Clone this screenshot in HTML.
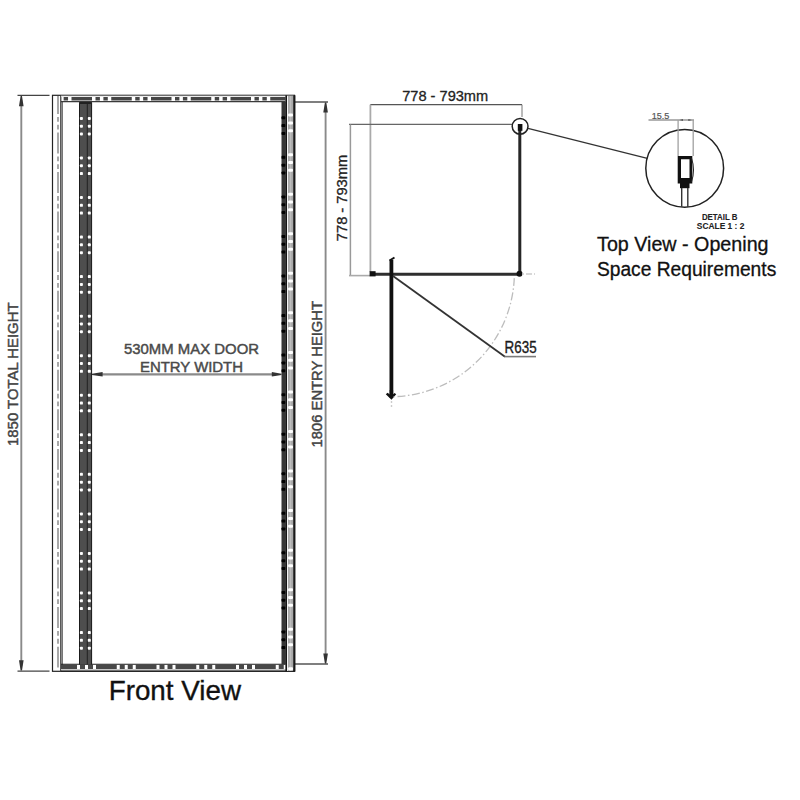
<!DOCTYPE html>
<html><head><meta charset="utf-8">
<style>
html,body{margin:0;padding:0;background:#fff;width:800px;height:800px;overflow:hidden}
svg{display:block;position:absolute;left:0;top:0}
text{font-family:"Liberation Sans",sans-serif}
</style></head>
<body>
<svg width="800" height="800" viewBox="0 0 800 800">
<rect x="0" y="0" width="800" height="800" fill="#fff"/>

<!-- ================= FRONT VIEW ================= -->
<g id="front">
  <!-- left dimension (1850 total) -->
  <line x1="17.5" y1="95.3" x2="49.5" y2="95.3" stroke="#444" stroke-width="1.3"/>
  <line x1="17.5" y1="671.2" x2="49.5" y2="671.2" stroke="#444" stroke-width="1.3"/>
  <line x1="21.3" y1="100" x2="21.3" y2="666" stroke="#8a8a8a" stroke-width="1.9"/>
  <path d="M20.6 96 L22 96 L23.6 106.3 L19 106.3 Z" fill="#333"/>
  <path d="M20.6 670.6 L22 670.6 L23.6 660.2 L19 660.2 Z" fill="#333"/>
  <text x="18.5" y="374.2" font-size="14.8" fill="#444" text-anchor="middle" transform="rotate(-90 18.5 374.2)" textLength="143.5" lengthAdjust="spacingAndGlyphs" stroke="#444" stroke-width="0.45">1850 TOTAL HEIGHT</text>

  <!-- right dimension (1806 entry) -->
  <line x1="295" y1="101.9" x2="328" y2="101.9" stroke="#555" stroke-width="1.5"/>
  <line x1="295" y1="664" x2="328" y2="664" stroke="#555" stroke-width="1.5"/>
  <line x1="325.6" y1="108" x2="325.6" y2="658" stroke="#8a8a8a" stroke-width="1.9"/>
  <path d="M324.9 102.6 L326.3 102.6 L327.9 112.6 L323.3 112.6 Z" fill="#333"/>
  <path d="M324.9 663.4 L326.3 663.4 L327.9 653.4 L323.3 653.4 Z" fill="#333"/>
  <text x="322.3" y="374.2" font-size="14.8" fill="#444" text-anchor="middle" transform="rotate(-90 322.3 374.2)" textLength="146.5" lengthAdjust="spacingAndGlyphs" stroke="#444" stroke-width="0.45">1806 ENTRY HEIGHT</text>

  <!-- outer frame -->
  <rect x="52.5" y="95.3" width="242" height="576" fill="none" stroke="#222" stroke-width="1.2"/>

  <!-- left thin strip -->
  <line x1="58" y1="96" x2="58" y2="670.5" stroke="#8c8c8c" stroke-width="1.5" stroke-dasharray="20.95 3 4.8 3 4.8 3" stroke-dashoffset="3.05"/>
  <line x1="60.8" y1="96" x2="60.8" y2="671" stroke="#222" stroke-width="1.1"/>
  <line x1="62.2" y1="101" x2="62.2" y2="665" stroke="#555" stroke-width="1.2"/>

  <!-- top bar -->
  <line x1="61" y1="98.7" x2="285.5" y2="98.7" stroke="#464646" stroke-width="3.4" stroke-dasharray="20.5 3.5 4.4 3.5 4.4 3.45" stroke-dashoffset="29.25" />
  <line x1="61" y1="96.2" x2="294" y2="96.2" stroke="#e6e6e6" stroke-width="1"/>
  <line x1="61" y1="101.7" x2="285.5" y2="101.7" stroke="#3a3a3a" stroke-width="1.3"/>

  <!-- bottom bar -->
  <line x1="61" y1="666.8" x2="285.5" y2="666.8" stroke="#484848" stroke-width="4.2" stroke-dasharray="20.75 3 5 3 5 3" stroke-dashoffset="4.75"/>
  <line x1="61" y1="664.3" x2="285.5" y2="664.3" stroke="#1e1e1e" stroke-width="1.1"/>
  <line x1="61" y1="669.8" x2="294" y2="669.8" stroke="#c8c8c8" stroke-width="1.4"/>
  <line x1="61" y1="671.1" x2="294" y2="671.1" stroke="#222" stroke-width="1.1"/>
  <rect x="79.2" y="662.4" width="12.6" height="2" fill="#111"/>

  <!-- left dark vertical bar -->
  <rect x="79.2" y="102.5" width="12.6" height="562" fill="#4e4e4e"/>
  <line x1="79.5" y1="102.5" x2="79.5" y2="664.5" stroke="#1a1a1a" stroke-width="1"/>
  <line x1="91.6" y1="102.5" x2="91.6" y2="664.5" stroke="#1a1a1a" stroke-width="1"/>
  <line x1="87.3" y1="102.5" x2="87.3" y2="664.5" stroke="#222" stroke-width="1"/>
  <rect x="79.2" y="102" width="12.6" height="2" fill="#222"/>

  <!-- right profile -->
  <rect x="281.5" y="102" width="4.2" height="562.3" fill="#363636"/>
  <rect x="285.4" y="95.3" width="1.6" height="576" fill="#151515"/>
  <rect x="287.1" y="96" width="0.9" height="575" fill="#f2f2f2"/>
  <rect x="288" y="96" width="5.2" height="575" fill="#a9a9a9"/>
  <rect x="289.8" y="96" width="1.4" height="575" fill="#bdbdbd"/>
  <rect x="293.2" y="95.3" width="2.2" height="576.3" fill="#1a1a1a"/>
</g>

<g id="dots">
<rect x="79.90" y="116.90" width="3" height="3" rx="0.9" fill="#fff"/>
<rect x="87.80" y="116.90" width="3" height="3" rx="0.9" fill="#fff"/>
<rect x="79.90" y="124.70" width="3" height="3" rx="0.9" fill="#fff"/>
<rect x="87.80" y="124.70" width="3" height="3" rx="0.9" fill="#fff"/>
<rect x="79.90" y="132.50" width="3" height="3" rx="0.9" fill="#fff"/>
<rect x="87.80" y="132.50" width="3" height="3" rx="0.9" fill="#fff"/>
<rect x="79.90" y="156.45" width="3" height="3" rx="0.9" fill="#fff"/>
<rect x="87.80" y="156.45" width="3" height="3" rx="0.9" fill="#fff"/>
<rect x="79.90" y="164.25" width="3" height="3" rx="0.9" fill="#fff"/>
<rect x="87.80" y="164.25" width="3" height="3" rx="0.9" fill="#fff"/>
<rect x="79.90" y="172.05" width="3" height="3" rx="0.9" fill="#fff"/>
<rect x="87.80" y="172.05" width="3" height="3" rx="0.9" fill="#fff"/>
<rect x="79.90" y="196.00" width="3" height="3" rx="0.9" fill="#fff"/>
<rect x="87.80" y="196.00" width="3" height="3" rx="0.9" fill="#fff"/>
<rect x="79.90" y="203.80" width="3" height="3" rx="0.9" fill="#fff"/>
<rect x="87.80" y="203.80" width="3" height="3" rx="0.9" fill="#fff"/>
<rect x="79.90" y="211.60" width="3" height="3" rx="0.9" fill="#fff"/>
<rect x="87.80" y="211.60" width="3" height="3" rx="0.9" fill="#fff"/>
<rect x="79.90" y="235.55" width="3" height="3" rx="0.9" fill="#fff"/>
<rect x="87.80" y="235.55" width="3" height="3" rx="0.9" fill="#fff"/>
<rect x="79.90" y="243.35" width="3" height="3" rx="0.9" fill="#fff"/>
<rect x="87.80" y="243.35" width="3" height="3" rx="0.9" fill="#fff"/>
<rect x="79.90" y="251.15" width="3" height="3" rx="0.9" fill="#fff"/>
<rect x="87.80" y="251.15" width="3" height="3" rx="0.9" fill="#fff"/>
<rect x="79.90" y="275.10" width="3" height="3" rx="0.9" fill="#fff"/>
<rect x="87.80" y="275.10" width="3" height="3" rx="0.9" fill="#fff"/>
<rect x="79.90" y="282.90" width="3" height="3" rx="0.9" fill="#fff"/>
<rect x="87.80" y="282.90" width="3" height="3" rx="0.9" fill="#fff"/>
<rect x="79.90" y="290.70" width="3" height="3" rx="0.9" fill="#fff"/>
<rect x="87.80" y="290.70" width="3" height="3" rx="0.9" fill="#fff"/>
<rect x="79.90" y="314.65" width="3" height="3" rx="0.9" fill="#fff"/>
<rect x="87.80" y="314.65" width="3" height="3" rx="0.9" fill="#fff"/>
<rect x="79.90" y="322.45" width="3" height="3" rx="0.9" fill="#fff"/>
<rect x="87.80" y="322.45" width="3" height="3" rx="0.9" fill="#fff"/>
<rect x="79.90" y="330.25" width="3" height="3" rx="0.9" fill="#fff"/>
<rect x="87.80" y="330.25" width="3" height="3" rx="0.9" fill="#fff"/>
<rect x="79.90" y="354.20" width="3" height="3" rx="0.9" fill="#fff"/>
<rect x="87.80" y="354.20" width="3" height="3" rx="0.9" fill="#fff"/>
<rect x="79.90" y="362.00" width="3" height="3" rx="0.9" fill="#fff"/>
<rect x="87.80" y="362.00" width="3" height="3" rx="0.9" fill="#fff"/>
<rect x="79.90" y="369.80" width="3" height="3" rx="0.9" fill="#fff"/>
<rect x="87.80" y="369.80" width="3" height="3" rx="0.9" fill="#fff"/>
<rect x="79.90" y="393.75" width="3" height="3" rx="0.9" fill="#fff"/>
<rect x="87.80" y="393.75" width="3" height="3" rx="0.9" fill="#fff"/>
<rect x="79.90" y="401.55" width="3" height="3" rx="0.9" fill="#fff"/>
<rect x="87.80" y="401.55" width="3" height="3" rx="0.9" fill="#fff"/>
<rect x="79.90" y="409.35" width="3" height="3" rx="0.9" fill="#fff"/>
<rect x="87.80" y="409.35" width="3" height="3" rx="0.9" fill="#fff"/>
<rect x="79.90" y="433.30" width="3" height="3" rx="0.9" fill="#fff"/>
<rect x="87.80" y="433.30" width="3" height="3" rx="0.9" fill="#fff"/>
<rect x="79.90" y="441.10" width="3" height="3" rx="0.9" fill="#fff"/>
<rect x="87.80" y="441.10" width="3" height="3" rx="0.9" fill="#fff"/>
<rect x="79.90" y="448.90" width="3" height="3" rx="0.9" fill="#fff"/>
<rect x="87.80" y="448.90" width="3" height="3" rx="0.9" fill="#fff"/>
<rect x="79.90" y="472.85" width="3" height="3" rx="0.9" fill="#fff"/>
<rect x="87.80" y="472.85" width="3" height="3" rx="0.9" fill="#fff"/>
<rect x="79.90" y="480.65" width="3" height="3" rx="0.9" fill="#fff"/>
<rect x="87.80" y="480.65" width="3" height="3" rx="0.9" fill="#fff"/>
<rect x="79.90" y="488.45" width="3" height="3" rx="0.9" fill="#fff"/>
<rect x="87.80" y="488.45" width="3" height="3" rx="0.9" fill="#fff"/>
<rect x="79.90" y="512.40" width="3" height="3" rx="0.9" fill="#fff"/>
<rect x="87.80" y="512.40" width="3" height="3" rx="0.9" fill="#fff"/>
<rect x="79.90" y="520.20" width="3" height="3" rx="0.9" fill="#fff"/>
<rect x="87.80" y="520.20" width="3" height="3" rx="0.9" fill="#fff"/>
<rect x="79.90" y="528.00" width="3" height="3" rx="0.9" fill="#fff"/>
<rect x="87.80" y="528.00" width="3" height="3" rx="0.9" fill="#fff"/>
<rect x="79.90" y="551.95" width="3" height="3" rx="0.9" fill="#fff"/>
<rect x="87.80" y="551.95" width="3" height="3" rx="0.9" fill="#fff"/>
<rect x="79.90" y="559.75" width="3" height="3" rx="0.9" fill="#fff"/>
<rect x="87.80" y="559.75" width="3" height="3" rx="0.9" fill="#fff"/>
<rect x="79.90" y="567.55" width="3" height="3" rx="0.9" fill="#fff"/>
<rect x="87.80" y="567.55" width="3" height="3" rx="0.9" fill="#fff"/>
<rect x="79.90" y="591.50" width="3" height="3" rx="0.9" fill="#fff"/>
<rect x="87.80" y="591.50" width="3" height="3" rx="0.9" fill="#fff"/>
<rect x="79.90" y="599.30" width="3" height="3" rx="0.9" fill="#fff"/>
<rect x="87.80" y="599.30" width="3" height="3" rx="0.9" fill="#fff"/>
<rect x="79.90" y="607.10" width="3" height="3" rx="0.9" fill="#fff"/>
<rect x="87.80" y="607.10" width="3" height="3" rx="0.9" fill="#fff"/>
<rect x="79.90" y="631.05" width="3" height="3" rx="0.9" fill="#fff"/>
<rect x="87.80" y="631.05" width="3" height="3" rx="0.9" fill="#fff"/>
<rect x="79.90" y="638.85" width="3" height="3" rx="0.9" fill="#fff"/>
<rect x="87.80" y="638.85" width="3" height="3" rx="0.9" fill="#fff"/>
<rect x="79.90" y="646.65" width="3" height="3" rx="0.9" fill="#fff"/>
<rect x="87.80" y="646.65" width="3" height="3" rx="0.9" fill="#fff"/>
<rect x="281.5" y="116.30" width="3.8" height="3" rx="0.9" fill="#000"/>
<rect x="281.5" y="124.10" width="3.8" height="3" rx="0.9" fill="#000"/>
<rect x="281.5" y="131.90" width="3.8" height="3" rx="0.9" fill="#000"/>
<rect x="281.5" y="155.85" width="3.8" height="3" rx="0.9" fill="#000"/>
<rect x="281.5" y="163.65" width="3.8" height="3" rx="0.9" fill="#000"/>
<rect x="281.5" y="171.45" width="3.8" height="3" rx="0.9" fill="#000"/>
<rect x="281.5" y="195.40" width="3.8" height="3" rx="0.9" fill="#000"/>
<rect x="281.5" y="203.20" width="3.8" height="3" rx="0.9" fill="#000"/>
<rect x="281.5" y="211.00" width="3.8" height="3" rx="0.9" fill="#000"/>
<rect x="281.5" y="234.95" width="3.8" height="3" rx="0.9" fill="#000"/>
<rect x="281.5" y="242.75" width="3.8" height="3" rx="0.9" fill="#000"/>
<rect x="281.5" y="250.55" width="3.8" height="3" rx="0.9" fill="#000"/>
<rect x="281.5" y="274.50" width="3.8" height="3" rx="0.9" fill="#000"/>
<rect x="281.5" y="282.30" width="3.8" height="3" rx="0.9" fill="#000"/>
<rect x="281.5" y="290.10" width="3.8" height="3" rx="0.9" fill="#000"/>
<rect x="281.5" y="314.05" width="3.8" height="3" rx="0.9" fill="#000"/>
<rect x="281.5" y="321.85" width="3.8" height="3" rx="0.9" fill="#000"/>
<rect x="281.5" y="329.65" width="3.8" height="3" rx="0.9" fill="#000"/>
<rect x="281.5" y="353.60" width="3.8" height="3" rx="0.9" fill="#000"/>
<rect x="281.5" y="361.40" width="3.8" height="3" rx="0.9" fill="#000"/>
<rect x="281.5" y="369.20" width="3.8" height="3" rx="0.9" fill="#000"/>
<rect x="281.5" y="393.15" width="3.8" height="3" rx="0.9" fill="#000"/>
<rect x="281.5" y="400.95" width="3.8" height="3" rx="0.9" fill="#000"/>
<rect x="281.5" y="408.75" width="3.8" height="3" rx="0.9" fill="#000"/>
<rect x="281.5" y="432.70" width="3.8" height="3" rx="0.9" fill="#000"/>
<rect x="281.5" y="440.50" width="3.8" height="3" rx="0.9" fill="#000"/>
<rect x="281.5" y="448.30" width="3.8" height="3" rx="0.9" fill="#000"/>
<rect x="281.5" y="472.25" width="3.8" height="3" rx="0.9" fill="#000"/>
<rect x="281.5" y="480.05" width="3.8" height="3" rx="0.9" fill="#000"/>
<rect x="281.5" y="487.85" width="3.8" height="3" rx="0.9" fill="#000"/>
<rect x="281.5" y="511.80" width="3.8" height="3" rx="0.9" fill="#000"/>
<rect x="281.5" y="519.60" width="3.8" height="3" rx="0.9" fill="#000"/>
<rect x="281.5" y="527.40" width="3.8" height="3" rx="0.9" fill="#000"/>
<rect x="281.5" y="551.35" width="3.8" height="3" rx="0.9" fill="#000"/>
<rect x="281.5" y="559.15" width="3.8" height="3" rx="0.9" fill="#000"/>
<rect x="281.5" y="566.95" width="3.8" height="3" rx="0.9" fill="#000"/>
<rect x="281.5" y="590.90" width="3.8" height="3" rx="0.9" fill="#000"/>
<rect x="281.5" y="598.70" width="3.8" height="3" rx="0.9" fill="#000"/>
<rect x="281.5" y="606.50" width="3.8" height="3" rx="0.9" fill="#000"/>
<rect x="281.5" y="630.45" width="3.8" height="3" rx="0.9" fill="#000"/>
<rect x="281.5" y="638.25" width="3.8" height="3" rx="0.9" fill="#000"/>
<rect x="281.5" y="646.05" width="3.8" height="3" rx="0.9" fill="#000"/>
<rect x="288.1" y="113.60" width="4.9" height="3" rx="1" fill="#fff"/>
<rect x="288.1" y="121.40" width="4.9" height="3" rx="1" fill="#fff"/>
<rect x="288.1" y="129.20" width="4.9" height="3" rx="1" fill="#fff"/>
<rect x="288.1" y="153.15" width="4.9" height="3" rx="1" fill="#fff"/>
<rect x="288.1" y="160.95" width="4.9" height="3" rx="1" fill="#fff"/>
<rect x="288.1" y="168.75" width="4.9" height="3" rx="1" fill="#fff"/>
<rect x="288.1" y="192.70" width="4.9" height="3" rx="1" fill="#fff"/>
<rect x="288.1" y="200.50" width="4.9" height="3" rx="1" fill="#fff"/>
<rect x="288.1" y="208.30" width="4.9" height="3" rx="1" fill="#fff"/>
<rect x="288.1" y="232.25" width="4.9" height="3" rx="1" fill="#fff"/>
<rect x="288.1" y="240.05" width="4.9" height="3" rx="1" fill="#fff"/>
<rect x="288.1" y="247.85" width="4.9" height="3" rx="1" fill="#fff"/>
<rect x="288.1" y="271.80" width="4.9" height="3" rx="1" fill="#fff"/>
<rect x="288.1" y="279.60" width="4.9" height="3" rx="1" fill="#fff"/>
<rect x="288.1" y="287.40" width="4.9" height="3" rx="1" fill="#fff"/>
<rect x="288.1" y="311.35" width="4.9" height="3" rx="1" fill="#fff"/>
<rect x="288.1" y="319.15" width="4.9" height="3" rx="1" fill="#fff"/>
<rect x="288.1" y="326.95" width="4.9" height="3" rx="1" fill="#fff"/>
<rect x="288.1" y="350.90" width="4.9" height="3" rx="1" fill="#fff"/>
<rect x="288.1" y="358.70" width="4.9" height="3" rx="1" fill="#fff"/>
<rect x="288.1" y="366.50" width="4.9" height="3" rx="1" fill="#fff"/>
<rect x="288.1" y="390.45" width="4.9" height="3" rx="1" fill="#fff"/>
<rect x="288.1" y="398.25" width="4.9" height="3" rx="1" fill="#fff"/>
<rect x="288.1" y="406.05" width="4.9" height="3" rx="1" fill="#fff"/>
<rect x="288.1" y="430.00" width="4.9" height="3" rx="1" fill="#fff"/>
<rect x="288.1" y="437.80" width="4.9" height="3" rx="1" fill="#fff"/>
<rect x="288.1" y="445.60" width="4.9" height="3" rx="1" fill="#fff"/>
<rect x="288.1" y="469.55" width="4.9" height="3" rx="1" fill="#fff"/>
<rect x="288.1" y="477.35" width="4.9" height="3" rx="1" fill="#fff"/>
<rect x="288.1" y="485.15" width="4.9" height="3" rx="1" fill="#fff"/>
<rect x="288.1" y="509.10" width="4.9" height="3" rx="1" fill="#fff"/>
<rect x="288.1" y="516.90" width="4.9" height="3" rx="1" fill="#fff"/>
<rect x="288.1" y="524.70" width="4.9" height="3" rx="1" fill="#fff"/>
<rect x="288.1" y="548.65" width="4.9" height="3" rx="1" fill="#fff"/>
<rect x="288.1" y="556.45" width="4.9" height="3" rx="1" fill="#fff"/>
<rect x="288.1" y="564.25" width="4.9" height="3" rx="1" fill="#fff"/>
<rect x="288.1" y="588.20" width="4.9" height="3" rx="1" fill="#fff"/>
<rect x="288.1" y="596.00" width="4.9" height="3" rx="1" fill="#fff"/>
<rect x="288.1" y="603.80" width="4.9" height="3" rx="1" fill="#fff"/>
<rect x="288.1" y="627.75" width="4.9" height="3" rx="1" fill="#fff"/>
<rect x="288.1" y="635.55" width="4.9" height="3" rx="1" fill="#fff"/>
<rect x="288.1" y="643.35" width="4.9" height="3" rx="1" fill="#fff"/>
<rect x="288.1" y="667.30" width="4.9" height="3" rx="1" fill="#fff"/>
</g>

<!-- entry width dimension -->
<line x1="98" y1="374.3" x2="276" y2="374.3" stroke="#8a8a8a" stroke-width="2.2"/>
<path d="M92 373.7 L92 374.9 L102.6 376.6 L102.6 372 Z" fill="#333"/>
<path d="M281.5 373.7 L281.5 374.9 L271.8 376.6 L271.8 372 Z" fill="#333"/>
<text x="191.5" y="353.5" font-size="14.8" fill="#4a4a4a" text-anchor="middle" textLength="135" lengthAdjust="spacingAndGlyphs" stroke="#4a4a4a" stroke-width="0.45">530MM MAX DOOR</text>
<text x="191.5" y="371.5" font-size="14.8" fill="#4a4a4a" text-anchor="middle" textLength="103" lengthAdjust="spacingAndGlyphs" stroke="#4a4a4a" stroke-width="0.45">ENTRY WIDTH</text>

<text x="174.85" y="700.3" font-size="27.4" fill="#111" text-anchor="middle" textLength="132.3" lengthAdjust="spacingAndGlyphs" stroke="#111" stroke-width="0.35">Front View</text>

<!-- ================= TOP VIEW ================= -->
<g id="top">
  <text x="445.2" y="101.3" font-size="14.6" fill="#222" text-anchor="middle" textLength="86" lengthAdjust="spacingAndGlyphs" stroke="#222" stroke-width="0.3">778 - 793mm</text>
  <line x1="370.3" y1="104.7" x2="522" y2="104.7" stroke="#555" stroke-width="1.3"/>
  <line x1="370.4" y1="104.7" x2="370.4" y2="272" stroke="#aaa" stroke-width="1.8"/>
  <line x1="522" y1="104.7" x2="522" y2="117" stroke="#777" stroke-width="1"/>
  <line x1="349" y1="124.4" x2="512" y2="124.4" stroke="#666" stroke-width="1.2"/>
  <line x1="350.4" y1="124.4" x2="350.4" y2="275.8" stroke="#999" stroke-width="1.5"/>
  <line x1="349" y1="275.6" x2="370" y2="275.6" stroke="#aaa" stroke-width="1.6"/>
  <text x="347.2" y="198" font-size="14.6" fill="#222" text-anchor="middle" transform="rotate(-90 347.2 198)" textLength="86.3" lengthAdjust="spacingAndGlyphs" stroke="#222" stroke-width="0.3">778 - 793mm</text>

  <!-- walls -->
  <line x1="519.8" y1="130" x2="519.8" y2="274" stroke="#262626" stroke-width="3"/>
  <line x1="372" y1="274.2" x2="519.8" y2="274.2" stroke="#2e2e2e" stroke-width="3.1"/>
  <rect x="369.6" y="271.2" width="6" height="5.2" fill="#111"/>
  <circle cx="519.5" cy="273.8" r="3" fill="#111"/>
  <line x1="522" y1="274" x2="535" y2="274" stroke="#ccc" stroke-width="1.3" stroke-dasharray="2 2 6 2"/>

  <!-- circle detail marker -->
  <circle cx="520.1" cy="126.3" r="7.9" fill="none" stroke="#222" stroke-width="1.5"/>
  <rect x="517.8" y="124" width="4.6" height="6.8" fill="#111"/>
  <line x1="528" y1="128.4" x2="647.3" y2="158.4" stroke="#333" stroke-width="1.3"/>

  <!-- door -->
  <line x1="391.4" y1="259.8" x2="391.4" y2="396" stroke="#111" stroke-width="3.8"/>
  <path d="M389.5 260.5 L394.5 257.5" stroke="#111" stroke-width="2"/>
  <path d="M385.8 394.2 L391.5 399.8 L396.2 394.2 L394.6 393 L391.5 395.8 L387.6 392.8 Z" fill="#111"/>
  <line x1="391.4" y1="390" x2="391.4" y2="398" stroke="#111" stroke-width="3.4"/>
  <line x1="391.5" y1="401" x2="391.5" y2="407" stroke="#ccc" stroke-width="1.4" stroke-dasharray="2 2"/>

  <!-- swing arc -->
  <path d="M514.28 278.11 A124.0 124.0 0 0 1 393.65 396.66" fill="none" stroke="#bdbdbd" stroke-width="1.3" stroke-dasharray="8 2.5 1.5 2.5"/>

  <!-- R635 -->
  <line x1="393" y1="276" x2="505" y2="356.7" stroke="#333" stroke-width="1.8"/>
  <line x1="504.5" y1="356.6" x2="536" y2="356.6" stroke="#7a7a7a" stroke-width="1.6"/>
  <text x="520.6" y="353" font-size="16.5" fill="#1a1a1a" text-anchor="middle" textLength="32" lengthAdjust="spacingAndGlyphs" stroke="#1a1a1a" stroke-width="0.35">R635</text>

  <!-- DETAIL B -->
  <circle cx="684.7" cy="168.3" r="38.9" fill="none" stroke="#222" stroke-width="1.5"/>
  <text x="660.5" y="118.6" font-size="8.8" fill="#555" text-anchor="middle" textLength="17.6" lengthAdjust="spacingAndGlyphs" stroke="#555" stroke-width="0.2">15.5</text>
  <line x1="648.5" y1="120" x2="694" y2="120" stroke="#999" stroke-width="1.4"/>
  <line x1="678.1" y1="120" x2="678.1" y2="156" stroke="#a0a0a0" stroke-width="1.3"/>
  <line x1="693.2" y1="120" x2="693.2" y2="156" stroke="#a0a0a0" stroke-width="1.3"/>
  <path d="M679.5 120 L683 118.9 L683 121.1 Z M691.8 120 L688.3 118.9 L688.3 121.1 Z" fill="#555"/>
  <path d="M677.7 155.9 H692.3 V183.5 H677.7 Z M681 159.3 V177.9 H689.5 V159.3 Z" fill="#111" fill-rule="evenodd"/>
  <path d="M691.5 158 Q695.5 170 691.5 182" fill="none" stroke="#222" stroke-width="1"/>
  <rect x="680" y="183" width="9.5" height="5.2" fill="#111"/>
  <line x1="681.7" y1="188" x2="681.7" y2="206.8" stroke="#333" stroke-width="1.4"/>
  <line x1="687.8" y1="188" x2="687.8" y2="207" stroke="#333" stroke-width="1.4"/>
  <text x="719.7" y="220" font-size="8.2" font-weight="bold" fill="#222" text-anchor="middle" textLength="35.6" lengthAdjust="spacingAndGlyphs" stroke="#222" stroke-width="0.1">DETAIL B</text>
  <text x="720.6" y="229" font-size="8.2" font-weight="bold" fill="#222" text-anchor="middle" textLength="47.5" lengthAdjust="spacingAndGlyphs" stroke="#222" stroke-width="0.1">SCALE 1 : 2</text>

  <text x="682.8" y="251.4" font-size="20" fill="#111" text-anchor="middle" textLength="171.5" lengthAdjust="spacingAndGlyphs" stroke="#111" stroke-width="0.3">Top View - Opening</text>
  <text x="686.6" y="276.2" font-size="20" fill="#111" text-anchor="middle" textLength="179.3" lengthAdjust="spacingAndGlyphs" stroke="#111" stroke-width="0.3">Space Requirements</text>
</g>
</svg>
</body></html>
